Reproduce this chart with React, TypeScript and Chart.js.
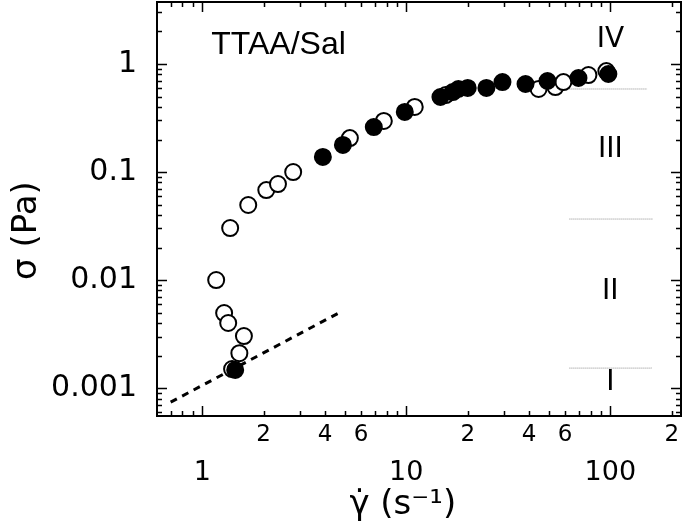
import React, { useEffect, useRef } from "react";
import { Chart, registerables } from "chart.js";

Chart.register(...registerables);

// ---- data (shear rate in 1/s, stress in Pa) ----
const filledRate = [1.45, 3.9, 4.89, 6.93, 9.83, 14.7, 16.9, 18.0, 20.0, 24.7, 29.6, 38.4, 49.2, 69.8, 97.8];
const filledStress = [0.00147, 0.138, 0.178, 0.261, 0.36, 0.495, 0.55, 0.587, 0.6, 0.6, 0.68, 0.653, 0.696, 0.742, 0.808];

const openRate = [1.17, 1.28, 1.34, 1.6, 1.52, 1.4, 1.37, 1.68, 2.06, 2.35, 2.79, 5.29, 7.76, 11.0, 15.6, 44.5, 53.8, 58.9, 78.1, 95.6];
const openStress = [0.01, 0.00495, 0.004, 0.00303, 0.0021, 0.0015, 0.0303, 0.0495, 0.068, 0.0774, 0.1, 0.206, 0.297, 0.4, 0.516, 0.587, 0.612, 0.68, 0.79, 0.86];

const fitRate = [0.7, 4.8];
const fitStress = [0.00074, 0.0051];

const boundaryStress = [0.587, 0.0367, 0.00153];
const boundaryRateStart = [63, 63, 63];
const boundaryRateEnd = [152, 162, 160];

const regionLabels = ["IV", "III", "II", "I"];
const regionRate = [100, 100, 100, 100];
const regionStress = [1.67, 0.16, 0.00775, 0.00111];

const sampleLabel = "TTAA/Sal";
const sampleLabelRate = 1.107;
const sampleLabelStress = 1.5;

const xTickValues = [0.7, 0.8, 0.9, 1, 2, 3, 4, 5, 6, 7, 8, 9, 10, 20, 30, 40, 50, 60, 70, 80, 90, 100, 200];
const xMinorLabelDigits = [2, 4, 6];
const yTickValues = [
  0.0006, 0.0007, 0.0008, 0.0009, 0.001, 0.002, 0.003, 0.004, 0.005, 0.006, 0.007, 0.008, 0.009,
  0.01, 0.02, 0.03, 0.04, 0.05, 0.06, 0.07, 0.08, 0.09, 0.1, 0.2, 0.3, 0.4, 0.5, 0.6, 0.7, 0.8, 0.9,
  1, 2, 3,
];
const yMajorLabels = ["0.001", "0.01", "0.1", "1"];
const yMajorValues = [0.001, 0.01, 0.1, 1];

const X_MIN = 0.609;
const X_MAX = 222;
const Y_MIN = 0.000551;
const Y_MAX = 3.75;

const NUM_FONT = "'DejaVu Sans', sans-serif";

function isMajor(v: number) {
  const l = Math.log10(v);
  return Math.abs(l - Math.round(l)) < 1e-6;
}

function leadDigit(v: number) {
  return Math.round(v / Math.pow(10, Math.floor(Math.log10(v) + 1e-9)));
}

function noPad(s: any) {
  s.paddingTop = 0;
  s.paddingBottom = 0;
  s.paddingLeft = 0;
  s.paddingRight = 0;
}

const tickMarks = {
  id: "tickMarks",
  afterDraw(chart: any) {
    const { ctx, chartArea: a, scales } = chart;
    const x = scales.x;
    const y = scales.y;
    ctx.save();
    ctx.strokeStyle = "#000";
    ctx.lineWidth = 1.5;
    ctx.beginPath();
    for (const t of x.ticks) {
      const px = Math.round(x.getPixelForValue(t.value)) + 0.5;
      const L = isMajor(t.value) ? 10 : 5;
      ctx.moveTo(px, a.bottom);
      ctx.lineTo(px, a.bottom - L);
      ctx.moveTo(px, a.top);
      ctx.lineTo(px, a.top + L);
    }
    for (const t of y.ticks) {
      const py = Math.round(y.getPixelForValue(t.value)) + 0.5;
      const L = isMajor(t.value) ? 10 : 5;
      ctx.moveTo(a.left, py);
      ctx.lineTo(a.left + L, py);
      ctx.moveTo(a.right, py);
      ctx.lineTo(a.right - L, py);
    }
    ctx.stroke();
    ctx.restore();
  },
  afterDatasetsDraw(chart: any) {
    const { ctx, scales } = chart;
    const x = scales.x;
    const y = scales.y;
    ctx.save();
    ctx.fillStyle = "#000";
    ctx.textBaseline = "middle";
    ctx.textAlign = "left";
    ctx.font = "32px 'Liberation Sans', Arial, sans-serif";
    ctx.fillText(sampleLabel, x.getPixelForValue(sampleLabelRate), y.getPixelForValue(sampleLabelStress));
    ctx.textAlign = "center";
    ctx.font = "28px " + NUM_FONT;
    regionLabels.forEach((lab, i) => {
      ctx.fillText(lab, x.getPixelForValue(regionRate[i]), y.getPixelForValue(regionStress[i]));
    });
    ctx.restore();
  },
};

export default function App() {
  const ref = useRef<HTMLCanvasElement | null>(null);

  useEffect(() => {
    document.body.style.margin = "0";
    const canvas = ref.current;
    if (!canvas) return;

    const pts = (xs: number[], ys: number[]) => xs.map((v, i) => ({ x: v, y: ys[i] }));

    const boundaryDatasets = boundaryStress.map((s, i) => ({
      data: [
        { x: boundaryRateStart[i], y: s },
        { x: boundaryRateEnd[i], y: s },
      ],
      showLine: true,
      pointRadius: 0,
      borderColor: "#8c8c8c",
      borderWidth: 1,
      borderDash: [1, 1],
    }));

    const chart = new Chart(canvas, {
      type: "scatter",
      data: {
        datasets: [
          {
            data: pts(filledRate, filledStress),
            pointRadius: 8,
            backgroundColor: "#000",
            borderColor: "#000",
            borderWidth: 2,
          },
          {
            data: pts(openRate, openStress),
            pointRadius: 8,
            backgroundColor: "#fff",
            borderColor: "#000",
            borderWidth: 2,
          },
          {
            data: pts(fitRate, fitStress),
            showLine: true,
            pointRadius: 0,
            borderColor: "#000",
            borderWidth: 3,
            borderDash: [7, 6],
          },
          ...boundaryDatasets,
        ] as any,
      },
      options: {
        responsive: false,
        animation: false,
        devicePixelRatio: 1,
        layout: { padding: 0, autoPadding: false },
        plugins: { legend: { display: false }, tooltip: { enabled: false } },
        scales: {
          x: {
            type: "logarithmic",
            position: "bottom",
            min: X_MIN,
            max: X_MAX,
            afterBuildTicks: (s: any) => {
              s.ticks = xTickValues.map((v) => ({ value: v }));
            },
            afterFit: (s: any) => {
              s.height = 111;
              noPad(s);
            },
            grid: { display: false, drawTicks: false },
            border: { display: true, color: "#000", width: 2 },
            ticks: {
              autoSkip: false,
              maxRotation: 0,
              minRotation: 0,
              padding: 8,
              color: "#000",
              font: (c: any) =>
                c.tick && isMajor(c.tick.value)
                  ? { family: NUM_FONT, size: 27, lineHeight: 1.2 }
                  : { family: NUM_FONT, size: 23, lineHeight: 1.0 },
              callback: (v: any) => {
                const n = Number(v);
                if (isMajor(n)) return ["", n >= 1 ? String(Math.round(n)) : String(n)];
                const d = leadDigit(n);
                return xMinorLabelDigits.includes(d) ? String(d) : "";
              },
            },
            title: {
              display: true,
              text: "\u03B3\u0307 (s\u207B\u00B9)   ",
              color: "#000",
              font: { family: NUM_FONT, size: 34 },
              padding: { top: 0, bottom: 1 },
            },
          },
          x2: {
            type: "logarithmic",
            position: "top",
            min: X_MIN,
            max: X_MAX,
            afterFit: (s: any) => {
              s.height = 2;
              noPad(s);
            },
            grid: { display: false, drawTicks: false },
            border: { display: true, color: "#000", width: 2 },
            ticks: { display: false },
          },
          y: {
            type: "logarithmic",
            position: "left",
            min: Y_MIN,
            max: Y_MAX,
            afterBuildTicks: (s: any) => {
              s.ticks = yTickValues.map((v) => ({ value: v }));
            },
            afterFit: (s: any) => {
              s.width = 157;
              noPad(s);
            },
            grid: { display: false, drawTicks: false },
            border: { display: true, color: "#000", width: 2 },
            ticks: {
              autoSkip: false,
              padding: 20,
              color: "#000",
              font: { family: NUM_FONT, size: 30 },
              callback: (v: any) => {
                const n = Number(v);
                const idx = yMajorValues.findIndex((m) => Math.abs(m - n) / m < 1e-6);
                return idx >= 0 ? yMajorLabels[idx] : "";
              },
            },
            title: {
              display: true,
              text: "\u03C3 (Pa)    ",
              color: "#000",
              font: { family: NUM_FONT, size: 34 },
              padding: { top: 7, bottom: 0 },
            },
          },
          y2: {
            type: "logarithmic",
            position: "right",
            min: Y_MIN,
            max: Y_MAX,
            afterFit: (s: any) => {
              s.width = 4;
              noPad(s);
            },
            grid: { display: false, drawTicks: false },
            border: { display: true, color: "#000", width: 2 },
            ticks: { display: false },
          },
        },
      } as any,
      plugins: [tickMarks],
    });

    return () => chart.destroy();
  }, []);

  return (
    <div style={{ width: 685, height: 527 }}>
      <canvas ref={ref} width={685} height={527} />
    </div>
  );
}
